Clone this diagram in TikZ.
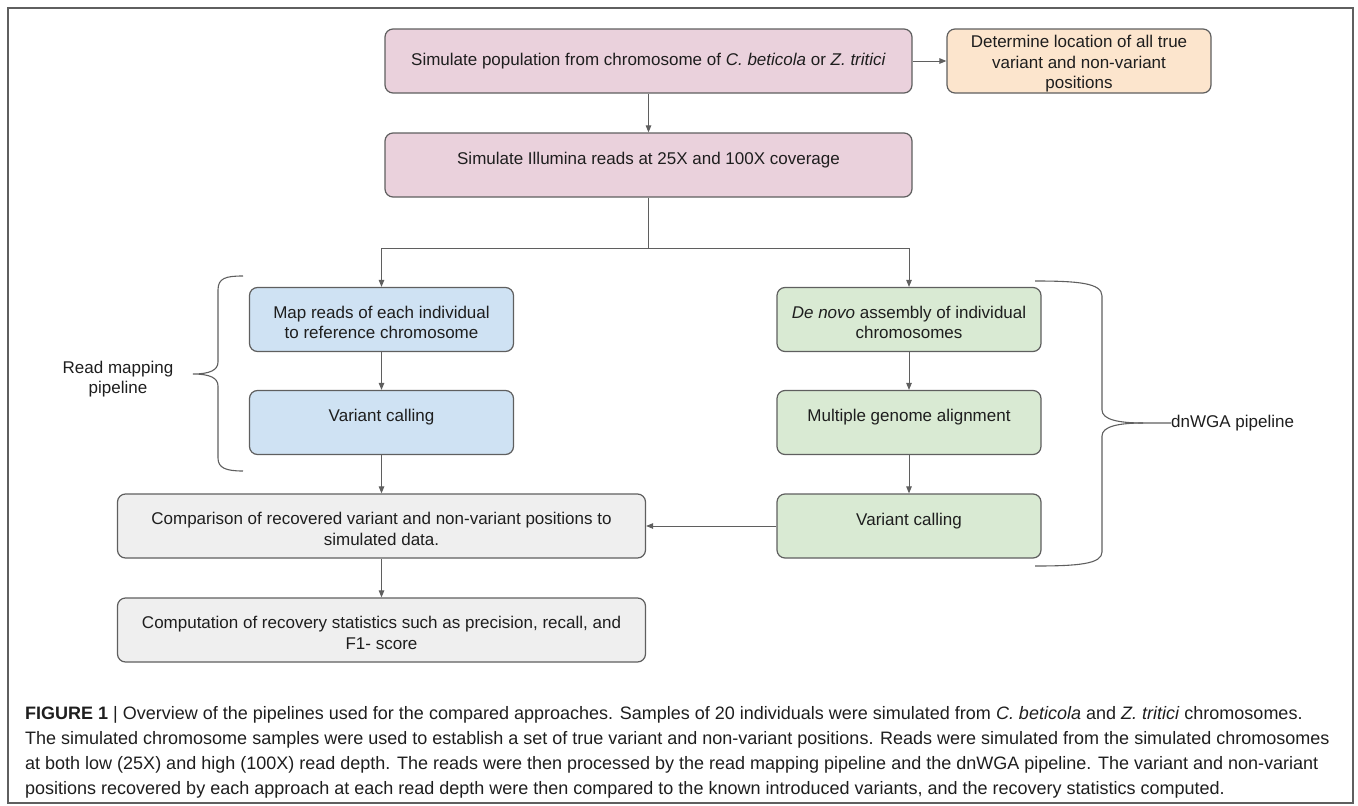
\documentclass[tikz,border=0pt]{standalone}
\usepackage{fontspec}
\setmainfont{Liberation Sans}
\usepackage{xcolor}
\usepackage{tikz}
\usetikzlibrary{arrows.meta}
\definecolor{pinkfill}{HTML}{EAD1DC}
\definecolor{peachfill}{HTML}{FCE5CD}
\definecolor{bluefill}{HTML}{CFE2F3}
\definecolor{greenfill}{HTML}{D9EAD3}
\definecolor{greyfill}{HTML}{EFEFEF}
\definecolor{edgecol}{HTML}{5F5F5F}
\definecolor{textcol}{HTML}{1E1E1E}
\newcommand{\upgap}{\rule{0pt}{18.5pt}}

\begin{document}
\begin{tikzpicture}[x=1pt, y=-1pt,
		stepbox/.style={draw=edgecol, line width=1.2pt, rounded corners=8pt,
			minimum height=64pt, inner sep=0pt, align=center, text=textcol,
			font=\fontsize{17pt}{20.5pt}\selectfont},
		oneline/.style={text height=12pt, text depth=14pt},
		link/.style={draw=edgecol, line width=1pt, -{Triangle[length=7pt,width=5.5pt]}},
		brace/.style={draw=edgecol, line width=1.1pt},
		sidetext/.style={text=textcol, align=center, inner sep=0pt,
			font=\fontsize{17pt}{20.5pt}\selectfont}]
	\useasboundingbox (0,0) rectangle (1358,806);
	
	% Frame
	\draw[edgecol, line width=1.5pt] (8,8) rectangle (1353,803);
	
	% Simulation
	\node[stepbox, fill=pinkfill, minimum width=527pt] (simpop) at (648.5,61)
		{Simulate population from chromosome of \textit{C. beticola} or \textit{Z. tritici}};
	\node[stepbox, fill=peachfill, minimum width=264pt] (truepos) at (1079,61)
		{\upgap Determine location of all true\\variant and non-variant\\positions};
	\node[stepbox, oneline, fill=pinkfill, minimum width=527pt] (illumina) at (648.5,165)
		{Simulate Illumina reads at 25X and 100X coverage};
	\coordinate (split) at (648.5,248);
	
	% Read mapping pipeline
	\node[stepbox, fill=bluefill, minimum width=264pt] (mapreads) at (381.5,319.5)
		{\upgap Map reads of each individual\\to reference chromosome};
	\node[stepbox, oneline, fill=bluefill, minimum width=264pt] (callmap) at (381.5,422.5)
		{Variant calling};
	
	% dnWGA pipeline
	\node[stepbox, fill=greenfill, minimum width=264pt] (denovo) at (909,319.5)
		{\upgap\textit{De novo} assembly of individual\\chromosomes};
	\node[stepbox, oneline, fill=greenfill, minimum width=264pt] (multialign) at (909,422.5)
		{Multiple genome alignment};
	\node[stepbox, oneline, fill=greenfill, minimum width=264pt] (callwga) at (909,526)
		{Variant calling};
	
	% Evaluation
	\node[stepbox, fill=greyfill, minimum width=528pt] (compare) at (381.5,526)
		{\upgap Comparison of recovered variant and non-variant positions to\\simulated data.};
	\node[stepbox, fill=greyfill, minimum width=528pt] (recstats) at (381.5,630)
		{\upgap Computation of recovery statistics such as precision, recall, and\\F1- score};
	
	% Connectors
	\draw[link] (simpop) -- (truepos);
	\draw[link] (simpop) -- (illumina);
	\draw[draw=edgecol, line width=1pt] (illumina) -- (split);
	\draw[link] (split) -| (mapreads);
	\draw[link] (split) -| (denovo);
	\draw[link] (mapreads) -- (callmap);
	\draw[link] (callmap) -- (compare);
	\draw[link] (denovo) -- (multialign);
	\draw[link] (multialign) -- (callwga);
	\draw[link] (callwga) -- (compare);
	\draw[link] (compare) -- (recstats);
	
	% Braces
	\node[sidetext] (maplabel) at (118,379) {Read mapping\\pipeline};
	\node[sidetext, anchor=west] (wgalabel) at (1171,423) {dnWGA pipeline};
	\draw[brace] (243,276) .. controls (226,276) and (218,278) .. (218,290) -- (218,362)
		.. controls (218,370) and (210,374) .. (193,374)
		.. controls (210,374) and (218,378) .. (218,386) -- (218,458)
		.. controls (218,468) and (226,471) .. (243,471);
	\draw[brace] (1035,281) .. controls (1078,281) and (1102,283) .. (1102,296) -- (1102,410)
		.. controls (1102,420) and (1120,423) .. (1143,423) -- (wgalabel.west);
	\draw[brace] (1143,423) .. controls (1120,423) and (1102,426) .. (1102,436) -- (1102,552)
		.. controls (1102,564) and (1078,566) .. (1035,566);
	
	% Caption
	\node[text=textcol, align=left, inner sep=0pt, anchor=north west,
		font=\fontsize{18pt}{25pt}\selectfont] (caption) at (25,706)
		{\textbf{FIGURE 1} | Overview of the pipelines used for the compared approaches. Samples of 20 individuals were simulated from \textit{C. beticola} and \textit{Z. tritici} chromosomes.\\
		The simulated chromosome samples were used to establish a set of true variant and non-variant positions. Reads were simulated from the simulated chromosomes\\
		at both low (25X) and high (100X) read depth. The reads were then processed by the read mapping pipeline and the dnWGA pipeline. The variant and non-variant\\
		positions recovered by each approach at each read depth were then compared to the known introduced variants, and the recovery statistics computed.};
\end{tikzpicture}
\end{document}
